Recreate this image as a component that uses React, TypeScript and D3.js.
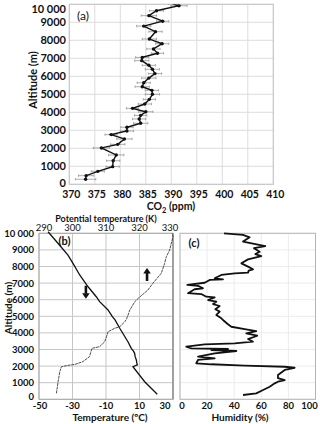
import { useEffect, useRef } from "react";
import * as d3 from "d3";

// (a) CO2 profile
const co2Alt = [10100, 9920, 9640, 9370, 9060, 8790, 8480, 8070, 7810, 7520, 7280, 7050, 6870, 6610, 6390, 6150, 5900, 5640, 5420, 5220, 5000, 4720, 4460, 4220, 4030, 3830, 3630, 3390, 3170, 2960, 2760, 2520, 2220, 2020, 1630, 1310, 980, 720, 480, 280];
const co2Ppm = [389.5, 391.5, 387.1, 385.6, 388.3, 384.6, 386.9, 385.7, 388.2, 386.5, 387.3, 384.3, 384.2, 385.6, 386.3, 386.8, 385.6, 384.6, 384.3, 386.2, 386.3, 385.7, 384.8, 382.4, 385.0, 384.0, 383.7, 384.0, 381.3, 381.3, 378.2, 380.8, 379.5, 376.3, 379.2, 378.6, 378.5, 375.6, 373.3, 373.2];
const co2Err = [1.5, 1.6, 1.4, 1.5, 1.2, 1.4, 1.3, 1.4, 1.3, 1.3, 1.2, 1.3, 1.4, 1.3, 1.4, 1.3, 1.4, 1.3, 1.4, 1.3, 1.4, 1.2, 1.3, 1.2, 1.4, 1.2, 1.3, 1.4, 1.2, 1.3, 1.2, 1.5, 1.4, 1.6, 1.5, 1.3, 1.3, 1.3, 1.5, 2.0];

// (b) temperature and potential temperature
const tempAlt = [10096, 9400, 8690, 8190, 7490, 6780, 6180, 5880, 5380, 4980, 4780, 4280, 3470, 3070, 2900, 2770, 2570, 2370, 2200, 2070, 1960, 1060, 300];
const tempC = [-44.6, -38.7, -32.7, -29.7, -25.7, -20.7, -15.8, -13.8, -8.8, -6.2, -4.6, -1.8, 3.1, 5.1, 6.4, 7.1, 7.4, 8.1, 8.4, 8.7, 6.1, 13.1, 20.6];
const thetaAlt = [360, 1060, 1660, 1960, 2040, 2100, 2270, 2570, 2800, 3070, 3170, 3470, 3800, 4070, 4280, 4370, 4670, 4820, 5080, 5380, 5880, 6080, 6580, 6990, 7590, 8190, 8590, 8990, 9400, 9800, 10000];
const thetaK = [295.2, 295.7, 296.2, 296.7, 298.5, 300.7, 303.1, 305.1, 305.4, 305.8, 308.1, 309.6, 310.2, 310.6, 312.6, 314.1, 315.6, 316.1, 316.6, 317.1, 318.6, 319.6, 322.5, 324.0, 326.5, 327.5, 328.0, 329.0, 329.5, 330.0, 329.8];

// (c) humidity
const humAlt = [10000, 9900, 9760, 9500, 9230, 9100, 8890, 8750, 8630, 8430, 8190, 7990, 7830, 7750, 7630, 7590, 7490, 7290, 7230, 7190, 7020, 6890, 6830, 6690, 6630, 6390, 6340, 6180, 6140, 5980, 5880, 5740, 5620, 5420, 5280, 5080, 4880, 4780, 4520, 4370, 4230, 4110, 3970, 3830, 3630, 3470, 3370, 3310, 3170, 3070, 3030, 2970, 2910, 2770, 2570, 2470, 2370, 2170, 2110, 2030, 1960, 1900, 1770, 1460, 1270, 1160, 1060, 960, 760, 560, 360, 260];
const humPct = [32.5, 46.5, 51.4, 46.5, 63, 54.6, 58.8, 55.6, 60, 50.2, 45.3, 50.2, 53.9, 50.7, 50.2, 40.4, 30.5, 25.6, 31.7, 21.9, 18.2, 5.4, 13.3, 17, 10.8, 5.9, 15.7, 19.4, 25.6, 20.7, 26.8, 24.4, 29.3, 26.1, 29.3, 26.8, 30.5, 31.7, 35.4, 37.9, 47.7, 56.3, 48.9, 57, 50.2, 53.9, 40.4, 18.2, 4.6, 8.4, 35.4, 23.1, 41.6, 25.6, 13.3, 25.6, 13.3, 12, 23.1, 47.7, 77.3, 84.6, 77.3, 72.3, 72.3, 77.3, 72.3, 69.9, 66.2, 61.3, 56.3, 46.5];

// tick labels
const altTicks = [0, 1000, 2000, 3000, 4000, 5000, 6000, 7000, 8000, 9000, 10000];
const co2Ticks = [370, 375, 380, 385, 390, 395, 400, 405, 410];
const tempTicks = [-50, -30, -10, 10, 30];
const thetaTicks = [290, 300, 310, 320, 330];
const humTicks = [0, 20, 40, 60, 80, 100];

const FONT = "Lato, 'Open Sans', sans-serif";
const altFmt = (d: number) => (d === 10000 ? "10 000" : String(d));

export default function App() {
  const svgRef = useRef<SVGSVGElement | null>(null);

  useEffect(() => {
    const svg = d3.select(svgRef.current);
    svg.selectAll("*").remove();
    svg.style("font-family", FONT);

    // ---------- panel (a)
    const xA = d3.scaleLinear().domain([370, 410]).range([69.3, 273.3]);
    const yA = d3.scaleLinear().domain([0, 10000]).range([184.3, 4.3]);
    const gA = svg.append("g");

    gA.selectAll(".vgrid").data(co2Ticks).join("line")
      .attr("x1", (d) => xA(d)).attr("x2", (d) => xA(d))
      .attr("y1", yA(10000)).attr("y2", yA(0))
      .attr("stroke", "#dcdcdc").attr("stroke-width", 1);
    gA.selectAll(".hgrid").data(altTicks).join("line")
      .attr("x1", xA(370)).attr("x2", xA(410))
      .attr("y1", (d) => yA(d)).attr("y2", (d) => yA(d))
      .attr("stroke", "#dcdcdc").attr("stroke-width", 1);
    gA.append("rect")
      .attr("x", xA(370)).attr("y", yA(10000))
      .attr("width", xA(410) - xA(370)).attr("height", yA(0) - yA(10000))
      .attr("fill", "none").attr("stroke", "#c4c4c4");

    gA.selectAll(".ylab").data(altTicks).join("text")
      .attr("x", 66).attr("y", (d) => (d === 0 ? yA(d) - 1.5 : Math.max(yA(d), 9)))
      .attr("dy", "0.36em").attr("text-anchor", "end")
      .attr("font-size", 11).attr("font-weight", "bold").attr("fill", "#111")
      .text(altFmt);
    gA.selectAll(".xlab").data(co2Ticks).join("text")
      .attr("x", (d) => xA(d) + 2).attr("y", 194.5)
      .attr("dy", "0.36em").attr("text-anchor", "middle")
      .attr("font-size", 10.5).attr("font-weight", "bold").attr("fill", "#111")
      .text((d) => d);

    const co2Title = gA.append("text")
      .attr("x", 171).attr("y", 210)
      .attr("text-anchor", "middle").attr("font-size", 10.5).attr("font-weight", "bold").attr("fill", "#111");
    co2Title.append("tspan").text("CO");
    co2Title.append("tspan").attr("font-size", 7.5).attr("dy", 3).text("2");
    co2Title.append("tspan").attr("dy", -3).text(" (ppm)");

    gA.append("text")
      .attr("transform", `translate(33,80) rotate(-90)`)
      .attr("dy", "0.36em").attr("text-anchor", "middle")
      .attr("font-size", 11).attr("font-weight", "bold").attr("fill", "#111")
      .text("Altitude (m)");
    gA.append("text")
      .attr("x", 77).attr("y", 16).attr("dy", "0.36em")
      .attr("font-size", 12).attr("fill", "#111").text("(a)");

    gA.append("clipPath").attr("id", "clipA").append("rect")
      .attr("x", xA(370)).attr("y", yA(10000))
      .attr("width", xA(410) - xA(370)).attr("height", yA(0) - yA(10000));
    const plotA = gA.append("g").attr("clip-path", "url(#clipA)");
    const idx = co2Ppm.map((_, i) => i);

    plotA.selectAll(".err").data(idx).join("line")
      .attr("x1", (i) => xA(co2Ppm[i] - co2Err[i])).attr("x2", (i) => xA(co2Ppm[i] + co2Err[i]))
      .attr("y1", (i) => yA(co2Alt[i])).attr("y2", (i) => yA(co2Alt[i]))
      .attr("stroke", "#8a8a8a").attr("stroke-width", 0.7);
    plotA.selectAll(".capL").data(idx).join("line")
      .attr("x1", (i) => xA(co2Ppm[i] - co2Err[i])).attr("x2", (i) => xA(co2Ppm[i] - co2Err[i]))
      .attr("y1", (i) => yA(co2Alt[i]) - 1.2).attr("y2", (i) => yA(co2Alt[i]) + 1.2)
      .attr("stroke", "#8a8a8a").attr("stroke-width", 0.7);
    plotA.selectAll(".capR").data(idx).join("line")
      .attr("x1", (i) => xA(co2Ppm[i] + co2Err[i])).attr("x2", (i) => xA(co2Ppm[i] + co2Err[i]))
      .attr("y1", (i) => yA(co2Alt[i]) - 1.2).attr("y2", (i) => yA(co2Alt[i]) + 1.2)
      .attr("stroke", "#8a8a8a").attr("stroke-width", 0.7);

    const lineA = d3.line<number>().x((i) => xA(co2Ppm[i])).y((i) => yA(co2Alt[i]));
    plotA.append("path").attr("d", lineA(idx))
      .attr("fill", "none").attr("stroke", "#111").attr("stroke-width", 1.4);
    plotA.selectAll(".dot").data(idx).join("circle")
      .attr("cx", (i) => xA(co2Ppm[i])).attr("cy", (i) => yA(co2Alt[i]))
      .attr("r", 1.7).attr("fill", "#111");

    // ---------- panel (b)
    const xT = d3.scaleLinear().domain([-50, 30]).range([39, 173]);
    const xK = d3.scaleLinear().domain([290, 330]).range([39, 173]);
    const yB = d3.scaleLinear().domain([0, 10000]).range([399.3, 233.3]);
    const gB = svg.append("g");

    gB.selectAll(".vgrid").data(tempTicks).join("line")
      .attr("x1", (d) => xT(d)).attr("x2", (d) => xT(d))
      .attr("y1", yB(10000)).attr("y2", yB(0))
      .attr("stroke", "#c6c6c6");
    gB.selectAll(".hgrid").data(altTicks).join("line")
      .attr("x1", xT(-50)).attr("x2", xT(30))
      .attr("y1", (d) => yB(d)).attr("y2", (d) => yB(d))
      .attr("stroke", "#c6c6c6");
    gB.append("rect")
      .attr("x", xT(-50)).attr("y", yB(10000))
      .attr("width", xT(30) - xT(-50)).attr("height", yB(0) - yB(10000))
      .attr("fill", "none").attr("stroke", "#a8a8a8");
    gB.append("line")
      .attr("x1", xT(30)).attr("x2", xT(30)).attr("y1", yB(10000)).attr("y2", yB(0))
      .attr("stroke", "#a0a0a0").attr("stroke-width", 2);

    gB.selectAll(".ylab").data(altTicks).join("text")
      .attr("x", 34).attr("y", (d) => (d === 0 ? yB(d) - 2.5 : yB(d)))
      .attr("dy", "0.36em").attr("text-anchor", "end")
      .attr("font-size", 9.5).attr("font-weight", "bold").attr("fill", "#111")
      .text(altFmt);
    gB.selectAll(".xlab").data(tempTicks).join("text")
      .attr("x", (d) => (d === 30 ? xT(d) - 8 : d === -50 ? xT(d) + 1 : xT(d))).attr("y", 406)
      .attr("dy", "0.36em").attr("text-anchor", "middle")
      .attr("font-size", 9.5).attr("font-weight", "bold").attr("fill", "#111")
      .text((d) => d);
    gB.selectAll(".klab").data(thetaTicks).join("text")
      .attr("x", (d) => (d === 290 ? xK(d) + 5 : d === 330 ? xK(d) - 3 : xK(d))).attr("y", 228)
      .attr("dy", "0.36em").attr("text-anchor", "middle")
      .attr("font-size", 9.5).attr("fill", "#111")
      .text((d) => d);
    gB.append("text")
      .attr("x", 106).attr("y", 218.5).attr("dy", "0.36em").attr("text-anchor", "middle")
      .attr("font-size", 9).attr("font-weight", "bold").attr("fill", "#111")
      .text("Potential temperature (K)");
    gB.append("text")
      .attr("x", 110).attr("y", 417).attr("dy", "0.36em").attr("text-anchor", "middle")
      .attr("font-size", 10).attr("font-weight", "bold").attr("fill", "#111")
      .text("Temperature (ºC)");
    gB.append("text")
      .attr("transform", `translate(8,308) rotate(-90)`)
      .attr("dy", "0.36em").attr("text-anchor", "middle")
      .attr("font-size", 10).attr("font-weight", "bold").attr("fill", "#111")
      .text("Altitude (m)");
    gB.append("text")
      .attr("x", 64.5).attr("y", 241).attr("dy", "0.36em").attr("text-anchor", "middle")
      .attr("font-size", 11).attr("font-weight", "bold").attr("fill", "#111").text("(b)");

    const tIdx = tempC.map((_, i) => i);
    gB.append("path")
      .attr("d", d3.line<number>().x((i) => xT(tempC[i])).y((i) => yB(tempAlt[i]))(tIdx))
      .attr("fill", "none").attr("stroke", "#111").attr("stroke-width", 1.3);
    const kIdx = thetaK.map((_, i) => i);
    gB.append("path")
      .attr("d", d3.line<number>().x((i) => xK(thetaK[i])).y((i) => yB(thetaAlt[i]))(kIdx))
      .attr("fill", "none").attr("stroke", "#3a3a3a").attr("stroke-width", 0.9)
      .attr("stroke-dasharray", "3,0.7");

    const arrow = (cx: number, cy: number, dir: number) => {
      const g = gB.append("g").attr("transform", `translate(${cx},${cy}) scale(1,${dir})`);
      g.append("rect").attr("x", -1.3).attr("y", -6).attr("width", 2.6).attr("height", 8).attr("fill", "#111");
      g.append("path").attr("d", "M-3.8,1.5 L3.8,1.5 L0,7 Z").attr("fill", "#111");
    };
    arrow(xT(-22), yB(6480), 1);
    arrow(xT(14.5), yB(7490), -1);

    // ---------- panel (c)
    const xH = d3.scaleLinear().domain([0, 100]).range([180, 315.5]);
    const gC = svg.append("g");
    gC.selectAll(".vgrid").data(humTicks).join("line")
      .attr("x1", (d) => xH(d)).attr("x2", (d) => xH(d))
      .attr("y1", yB(10000)).attr("y2", yB(0))
      .attr("stroke", "#ececec");
    gC.selectAll(".hgrid").data(altTicks).join("line")
      .attr("x1", xH(0)).attr("x2", xH(100))
      .attr("y1", (d) => yB(d)).attr("y2", (d) => yB(d))
      .attr("stroke", "#ececec");
    gC.append("rect")
      .attr("x", xH(0)).attr("y", yB(10000))
      .attr("width", xH(100) - xH(0)).attr("height", yB(0) - yB(10000))
      .attr("fill", "none").attr("stroke", "#b4b4b4");
    gC.selectAll(".xlab").data(humTicks).join("text")
      .attr("x", (d) => (d === 0 ? xH(d) + 2 : d === 100 ? xH(d) - 6 : xH(d))).attr("y", 406)
      .attr("dy", "0.36em").attr("text-anchor", "middle")
      .attr("font-size", 9.5).attr("font-weight", "bold").attr("fill", "#111")
      .text((d) => d);
    gC.append("text")
      .attr("x", 240).attr("y", 417).attr("dy", "0.36em").attr("text-anchor", "middle")
      .attr("font-size", 10).attr("font-weight", "bold").attr("fill", "#111")
      .text("Humidity (%)");
    gC.append("text")
      .attr("x", 194).attr("y", 243).attr("dy", "0.36em").attr("text-anchor", "middle")
      .attr("font-size", 11).attr("font-weight", "bold").attr("fill", "#111").text("(c)");

    const hIdx = humPct.map((_, i) => i);
    gC.append("path")
      .attr("d", d3.line<number>().x((i) => xH(humPct[i])).y((i) => yB(humAlt[i]))(hIdx))
      .attr("fill", "none").attr("stroke", "#111").attr("stroke-width", 1.8)
      .attr("stroke-linejoin", "round");
  }, []);

  return (
    <svg
      ref={svgRef}
      width={320}
      height={424}
      style={{ position: "absolute", left: 0, top: 0, background: "#fff" }}
    />
  );
}
